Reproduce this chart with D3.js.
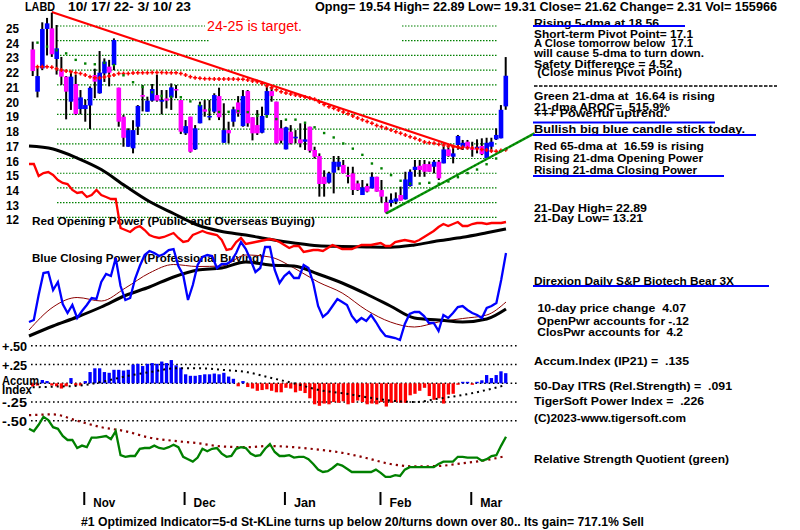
<!DOCTYPE html>
<html><head><meta charset="utf-8">
<script src="https://cdn.jsdelivr.net/npm/d3@7"></script>
<style>
body{margin:0;background:#fff}
svg{display:block;background:#fff}
text{font-family:"Liberation Sans",Arial,sans-serif;white-space:pre}
</style></head>
<body><svg id="c" width="800" height="530"></svg>
<script>
// ---------- DATA ----------
const ticker = "LABD";
const dateRange = "10/ 17/ 22- 3/ 10/ 23";
const headerStats = "Opng= 19.54 High= 22.89 Low= 19.31 Close= 21.62 Change= 2.31 Vol= 155966";
const opens = [23.41,20.54,22.12,24.8,24.84,22.76,22.0,21.56,19.86,21.06,
 19.36,19.36,19.6,21.67,20.43,21.78,22.24,22.35,20.81,18.84,
 16.8,16.69,18.16,20.31,19.18,19.93,20.31,19.86,20.08,20.15,
 20.72,19.97,17.71,18.84,16.62,18.39,19.34,18.8,19.18,20.24,
 17.07,17.93,18.5,19.81,18.2,20.58,18.8,18.27,17.75,18.95,
 20.58,19.86,18.05,16.62,17.82,17.37,17.3,17.14,18.16,16.58,
 16.17,14.76,14.36,15.04,15.44,15.56,14.88,14.99,14.31,13.52,
 14.13,13.97,14.76,13.86,13.02,12.98,13.07,13.52,13.23,14.13,
 15.22,15.51,15.62,15.62,15.44,15.78,15.67,16.62,16.12,16.92,
 16.8,17.14,16.69,16.69,16.85,16.01,16.8,17.3,17.37,19.54];
const highs = [23.94,22.2,25.25,25.55,25.9,25.07,22.9,21.6,21.9,21.7,
 20.65,20.0,20.9,22.1,23.3,22.8,22.7,24.16,20.81,18.95,
 18.05,18.6,19.63,20.99,20.2,21.06,21.7,20.65,20.65,21.1,
 20.99,19.97,18.61,18.84,18.27,19.86,19.97,19.97,20.43,20.81,
 19.75,18.5,19.52,20.24,20.65,20.65,18.8,19.29,19.52,20.93,
 20.88,19.86,18.61,18.16,18.27,17.93,18.39,18.39,18.16,16.8,
 16.35,15.2,15.1,16.17,16.17,15.9,15.44,15.44,14.5,14.54,
 14.3,15.06,14.76,14.54,13.41,13.63,13.7,14.09,15.1,15.26,
 15.9,15.9,15.9,15.8,15.9,15.9,16.9,16.85,16.8,17.6,
 17.26,17.26,17.14,17.3,17.37,17.41,17.41,18.05,19.63,22.89];
const lows = [21.6,20.15,22.0,23.0,22.9,21.7,21.0,18.66,19.3,18.95,
 19.0,18.5,18.0,20.1,20.4,21.2,20.9,22.0,18.16,16.8,
 16.8,16.35,17.6,19.2,19.18,19.86,19.86,19.0,19.4,19.3,
 20.1,17.66,17.6,16.4,16.58,18.39,18.84,18.6,19.07,18.61,
 17.07,17.03,18.16,18.84,18.16,18.16,17.23,17.6,17.71,18.77,
 19.86,16.96,17.03,16.62,16.96,17.03,16.76,16.58,16.4,16.0,
 13.41,13.41,14.3,13.63,15.2,14.99,14.31,13.52,13.8,13.52,
 13.7,13.97,13.75,13.0,12.27,12.73,12.9,13.14,13.21,14.09,
 14.76,14.76,14.76,15.1,14.99,14.54,15.67,16.12,15.67,16.6,
 16.58,16.62,16.12,16.35,16.23,16.01,16.46,17.26,17.37,19.31];
const closes = [21.94,21.6,24.8,25.18,23.08,23.48,21.56,20.54,21.56,19.02,
 20.15,19.63,20.8,21.22,21.83,22.58,21.83,24.05,18.5,17.41,
 17.93,17.93,19.57,20.2,19.93,20.72,19.93,19.97,19.93,20.83,
 20.65,17.82,18.2,16.46,18.05,19.63,19.18,18.89,20.31,18.8,
 17.93,17.71,19.34,19.07,20.24,18.39,17.71,17.71,18.89,20.58,
 20.24,17.03,17.21,18.12,17.03,17.48,17.03,17.3,16.53,16.12,
 14.27,14.27,14.99,15.78,15.78,14.99,14.76,13.86,13.86,14.04,
 13.75,14.76,13.75,13.41,12.34,13.2,13.29,13.14,14.58,15.1,
 15.44,15.22,15.1,15.1,15.78,14.65,16.62,16.17,16.35,17.53,
 17.07,16.69,16.58,16.8,16.3,17.07,17.14,17.6,19.31,21.62];
// red 65-dma (+ markers), day 0 not drawn
const ma65 = [null,22.24,22.24,22.24,22.19,22.1,22.01,21.94,21.9,21.83,
 21.78,21.67,21.56,21.49,21.47,21.54,21.6,21.67,21.78,21.78,
 21.78,21.8,21.83,21.83,21.83,21.85,21.85,21.85,21.83,21.83,
 21.83,21.78,21.67,21.56,21.49,21.45,21.42,21.42,21.4,21.4,
 21.4,21.4,21.4,21.38,21.38,21.33,21.26,21.22,21.1,20.95,
 20.81,20.67,20.54,20.45,20.38,20.31,20.24,20.18,20.11,20.02,
 19.84,19.66,19.52,19.41,19.29,19.16,19.04,18.89,18.75,18.64,
 18.52,18.39,18.25,18.16,18.05,17.93,17.82,17.71,17.6,17.48,
 17.37,17.26,17.12,17.07,17.03,16.96,16.92,16.85,16.8,16.78,
 16.76,16.73,16.71,16.67,16.62,16.58,16.51,16.49,16.55,16.59];
// green 21-dma dots (every other day)
const ma21Days = [1,3,5,7,9,11,13,15,17,19,21,23,25,27,29,31,33,35,37,39,41,43,45,47,49,
 51,53,55,57,59,61,63,65,67,69,71,73,75,77,79,81,83,85,87,89,91,93,95,97,99];
const ma21 = [23.87,23.6,23.35,23.14,22.7,22.45,22.4,22.5,22.35,21.65,
 21.18,20.86,20.5,20.25,20.19,20.16,19.88,19.62,19.32,19.16,
 19.17,19.22,19.15,18.9,18.88,18.68,18.64,18.64,18.43,18.12,
 17.73,17.43,17.02,16.67,16.25,15.66,15.33,14.87,14.49,14.29,
 14.3,14.35,14.29,14.44,14.73,15.01,15.25,15.61,16.0,16.64];
const redTrendDays = [4,90], redTrendVals = [25.95,16.65];
const greenTrendDays = [74,105], greenTrendVals = [12.27,17.71];
const priceTicks = [25,24,23,22,21,20,19,18,17,16,15,14,13,12];

// Opening / Closing Power (arbitrary units)
const openPower = [.81,.81,.69,.72,.73,.70,.65,.62,.61,.55,
 .52,.53,.48,.50,.55,.50,.48,.46,.46,.17,
 .15,.13,.17,.19,.15,.10,.08,.07,.08,.10,
 .12,.07,.03,.04,.10,.12,.14,.12,.11,.10,
 .05,-.05,-.04,.03,.07,.01,.02,.03,.04,.05,
 .06,.05,.03,0,-.03,-.01,-.01,-.07,-.06,-.05,
 -.05,-.06,-.03,0,-.02,-.04,-.04,-.04,-.02,0,
 0,0,.01,.02,-.01,-.01,.03,.04,.05,.04,
 .03,.05,.08,.11,.14,.18,.21,.19,.21,.23,
 .19,.19,.21,.22,.22,.21,.22,.22,.22,.23];
const closePower = [-.77,-.75,-.50,-.28,-.27,-.45,-.37,-.59,-.68,-.60,
 -.73,-.66,-.60,-.53,-.54,-.37,-.29,-.31,-.13,-.41,
 -.55,-.53,-.34,-.21,-.10,-.06,-.08,-.11,-.09,-.05,
 -.04,-.21,-.30,-.55,-.40,-.20,-.12,-.10,-.11,-.23,
 -.19,-.19,-.16,-.08,.03,-.04,-.15,-.27,-.23,-.02,
 -.02,-.25,-.38,-.31,-.27,-.33,-.33,-.20,-.23,-.38,
 -.61,-.72,-.68,-.61,-.54,-.57,-.60,-.71,-.77,-.73,
 -.76,-.70,-.77,-.85,-.91,-.92,-.93,-.95,-.79,-.69,
 -.67,-.67,-.71,-.78,-.78,-.86,-.70,-.73,-.68,-.62,
 -.61,-.65,-.68,-.70,-.73,-.63,-.61,-.58,-.35,-.08];
const maDays = [0,5,10,15,20,25,30,35,40,45,50,55,60,65,70,75,80,85,90,95,99];
const openPowerMA = [.99,.96,.87,.755,.59,.435,.315,.20,.135,.10,.057,.02,-.008,-.015,-.02,-.023,0,.042,.077,.122,.16];
const closePowerMA = [-.91,-.81,-.72,-.62,-.505,-.42,-.32,-.25,-.23,-.17,-.20,-.21,-.29,-.38,-.49,-.61,-.73,-.75,-.77,-.74,-.64];
const closePowerMA2 = [-.85,-.62,-.525,-.56,-.43,-.28,-.195,-.215,-.21,-.10,-.12,-.23,-.37,-.48,-.65,-.77,-.82,-.77,-.735,-.70,-.57];

// Accumulation Index
const accum = [-.044,-.03,.044,.03,-.03,-.04,-.07,-.04,.07,-.03,
 -.03,.03,.15,.2,.2,.15,.14,.18,.18,.17,
 .18,.25,.26,.23,.26,.27,.26,.29,.27,.31,
 .24,.21,.12,.10,.10,.11,.12,.12,.13,.12,
 .14,.09,.06,-.04,.03,-.05,-.07,-.1,-.09,-.08,
 -.1,-.12,-.12,-.06,-.07,-.12,-.1,-.13,-.2,-.28,
 -.3,-.27,-.28,-.25,-.26,-.24,-.28,-.26,-.23,-.25,
 -.28,-.27,-.28,-.25,-.31,-.26,-.25,-.26,-.26,-.16,
 -.14,-.1,-.06,-.17,-.22,-.2,-.27,-.15,-.14,-.02,
 .02,.02,-.02,.02,.04,.11,.07,.11,.16,.135];
const accumMA = [-.053,-.044,-.03,.027,.10,.155,.20,.20,.178,.147,.07,-.005,-.09,-.133,-.187,-.231,-.249,-.204,-.156,-.089,-.022];
const accTicks = [0.5,0.25,-0.25,-0.5];
const accTickLabels = ["+.50","+.25","-.25","-.50"];

// Relative Strength Quotient
const rsq = [.64,.61,.69,.79,.75,.66,.64,.55,.50,.50,
 .40,.43,.41,.53,.53,.54,.55,.51,.61,.31,
 .29,.30,.30,.39,.40,.40,.43,.40,.39,.41,
 .44,.41,.29,.26,.23,.28,.39,.36,.39,.40,
 .33,.29,.30,.39,.41,.40,.33,.30,.31,.39,
 .45,.35,.30,.30,.31,.28,.29,.29,.26,.20,
 .13,.10,.11,.15,.20,.18,.14,.10,.10,.10,
 .10,.10,.13,.09,.04,.04,.06,.05,.13,.16,
 .16,.16,.16,.16,.16,.20,.23,.23,.23,.29,
 .29,.28,.28,.28,.24,.26,.30,.31,.43,.54];
const rsqMA = [.81,.82,.74,.66,.61,.53,.49,.46,.42,.41,.425,.41,.38,.34,.275,.20,.17,.175,.21,.25,.30];

const monthDays = [11,32,53,73,92];
const monthLabels = ["Nov","Dec","Jan","Feb","Mar"];

const sidePanel = [
 {t:"Rising 5-dma at 18.56", y:26.5, w:125, u:685, uy:26},
 {t:"Short-term Pivot Point= 17.1", y:38.3, w:159},
 {t:"A Close tomorrow below  17.1", y:47, w:159},
 {t:"will cause 5-dma to turn down.", y:56.5, w:170},
 {t:"Safety Difference = 4.52", y:67.5, w:139},
 {t:" (Close minus Pivot Point)", y:76, w:148},
 {t:"Green 21-dma at  16.64 is rising", y:99.5, w:181},
 {t:"21-dma AROC=  515.9%", y:111.3, w:136},
 {t:"+++ Powerful uptrend.", y:116.5, w:133, u:715, uy:122.5},
 {t:"Bullish big blue candle stick today.", y:133, w:211, u:756, uy:135},
 {t:"Red 65-dma at  16.59 is rising", y:150, w:170},
 {t:"Rising 21-dma Opening Power", y:162, w:169},
 {t:"Rising 21-dma Closing Power", y:174, w:163, u:724, uy:176},
 {t:"21-Day High= 22.89", y:211.5, w:113},
 {t:"21-Day Low= 13.21", y:222, w:109},
 {t:"Direxion Daily S&P Biotech Bear 3X", y:285, w:200, u:769, uy:286},
 {t:" 10-day price change  4.07", y:311.5, w:152},
 {t:" OpenPwr accounts for -.12", y:324.5, w:155},
 {t:" ClosPwr accounts for  4.2", y:336.3, w:149},
 {t:"Accum.Index (IP21) =  .135", y:364.5, w:155},
 {t:"50-Day ITRS (Rel.Strength) =  .091", y:390, w:198},
 {t:"TigerSoft Power Index =  .226", y:404.5, w:170},
 {t:"(C)2023-www.tigersoft.com", y:422, w:152},
 {t:"Relative Strength Quotient (green)", y:463, w:195}
];
const bottomNote = "#1 Optimized Indicator=5-d St-KLine turns up below 20/turns down over 80.. Its gain= 717.1% Sell";

// ---------- DRAW ----------
const svg = d3.select("#c");
const xC = d3.scaleLinear().domain([0,99]).range([32.7,505.7]);
const xI = d3.scaleLinear().domain([0,99]).range([29,506]);
const yP = d3.scaleLinear().domain([12,25]).range([217.4,26]);
const yOC = d3.scaleLinear().domain([-1,1]).range([345,145]);
const yA = d3.scaleLinear().domain([-0.5,0.5]).range([420.8,345.8]);
const yR = d3.scaleLinear().domain([0,1]).range([480,400]);

function T(x,y,s,w,opt){
  opt = opt || {};
  const t = svg.append("text").attr("x",x).attr("y",y).text(s)
    .style("font-size", opt.size || "11.5px")
    .style("font-weight", opt.weight || "bold")
    .style("fill", opt.fill || "#000");
  if(w) t.attr("textLength",w).attr("lengthAdjust","spacingAndGlyphs");
  return t;
}

// price gridlines
const gG = svg.append("g");
priceTicks.forEach(v=>{
  const segs = v===25 ? [[57,205],[402,498]] : v===24 ? [[57,210],[402,498]] : [[57,498]];
  segs.forEach(s=>{
    gG.append("line").attr("x1",s[0]).attr("x2",s[1]).attr("y1",yP(v)).attr("y2",yP(v))
      .attr("stroke","#008000").attr("stroke-width",1.2).attr("stroke-dasharray","1.5,1.5");
  });
});
priceTicks.forEach(v=>T(6,yP(v)+7,String(v),13,{size:"12px"}));

// accum grid
accTicks.concat([0]).forEach(v=>{
  svg.append("line").attr("x1",31).attr("x2",518).attr("y1",yA(v)).attr("y2",yA(v))
    .attr("stroke","#000").attr("stroke-width",1.6).attr("stroke-dasharray","1.6,2.8");
});

// panel labels (lines are drawn over them, as in the original)
T(32,225,"Red Opening Power (Public and Overseas Buying)",283);
T(32,262,"Blue Closing Power (Professional Buying)",231);

// OP / CP lines
const lineI = (ys)=>d3.line().x((d,i)=>xI(i)).y(d=>ys(d));
const lineMA = (xs,ys,days)=>d3.line().x((d,i)=>xs(days[i])).y(d=>ys(d)).curve(d3.curveMonotoneX);
svg.append("path").datum(openPowerMA).attr("d",lineMA(xI,yOC,maDays)).attr("fill","none").attr("stroke","#000").attr("stroke-width",3);
svg.append("path").datum(openPower).attr("d",lineI(yOC)).attr("fill","none").attr("stroke","#ff0000").attr("stroke-width",2.3);
svg.append("path").datum(closePowerMA2).attr("d",lineMA(xI,yOC,maDays)).attr("fill","none").attr("stroke","#8b0000").attr("stroke-width",1);
svg.append("path").datum(closePowerMA).attr("d",lineMA(xI,yOC,maDays)).attr("fill","none").attr("stroke","#000").attr("stroke-width",3);
svg.append("path").datum(closePower).attr("d",lineI(yOC)).attr("fill","none").attr("stroke","#0000ff").attr("stroke-width",2.3);

// red down trend line
svg.append("line").attr("x1",xC(redTrendDays[0])).attr("y1",yP(redTrendVals[0]))
  .attr("x2",xC(redTrendDays[1])).attr("y2",yP(redTrendVals[1])).attr("stroke","#ff0000").attr("stroke-width",2.2);

// candles
const gC = svg.append("g");
closes.forEach((c,i)=>{
  gC.append("line").attr("x1",xC(i)).attr("x2",xC(i)).attr("y1",yP(highs[i])).attr("y2",yP(lows[i]))
    .attr("stroke","#000").attr("stroke-width",2);
  const o = opens[i];
  const top = Math.min(yP(o),yP(c)), h = Math.max(1.5,Math.abs(yP(o)-yP(c)));
  gC.append("rect").attr("x",xC(i)-2.2).attr("width",4.6).attr("y",top).attr("height",h)
    .attr("fill", c>=o ? "#0000ff" : "#ff00ff");
});

// 65-dma plus markers
svg.append("g").selectAll("path").data(ma65.map((v,i)=>[i,v]).filter(d=>d[1]!=null)).join("path")
  .attr("d",d=>`M${xC(d[0])-2},${yP(d[1])}h4M${xC(d[0])},${yP(d[1])-2}v4`)
  .attr("stroke","#ff0000").attr("stroke-width",1.5);

// 21-dma dots
svg.append("g").selectAll("rect").data(ma21).join("rect")
  .attr("x",(d,i)=>xC(ma21Days[i])-1.2).attr("y",d=>yP(d)-1.2).attr("width",2.4).attr("height",2.4).attr("fill","#008000");

// green up trend line
svg.append("line").attr("x1",xC(greenTrendDays[0])).attr("y1",yP(greenTrendVals[0]))
  .attr("x2",xC(greenTrendDays[1])).attr("y2",yP(greenTrendVals[1])).attr("stroke","#0a9a0a").attr("stroke-width",2.4);
svg.append("line").attr("x1",xC(greenTrendDays[0])).attr("y1",yP(greenTrendVals[0]))
  .attr("x2",xC(greenTrendDays[1])).attr("y2",yP(greenTrendVals[1])).attr("stroke","#006000").attr("stroke-width",1.2).attr("stroke-dasharray","1.5,2.5");

// accum bars
svg.append("g").selectAll("rect").data(accum).join("rect")
  .attr("x",(d,i)=>xC(i)-1.6).attr("width",3.3)
  .attr("y",d=>Math.min(yA(0),yA(d))).attr("height",d=>Math.max(1.5,Math.abs(yA(d)-yA(0))))
  .attr("fill",d=>d>=0?"#0000ff":"#ff0000");
svg.append("path").datum(accumMA).attr("d",lineMA(xC,yA,maDays)).attr("fill","none")
  .attr("stroke","#000").attr("stroke-width",2).attr("stroke-dasharray","2,4");

// RSQ
svg.append("path").datum(rsqMA).attr("d",lineMA(xI,yR,maDays)).attr("fill","none")
  .attr("stroke","#8b0000").attr("stroke-width",2.2).attr("stroke-dasharray","2.2,4");
svg.append("path").datum(rsq).attr("d",lineI(yR)).attr("fill","none").attr("stroke","#008000").attr("stroke-width",2.3);

// month axis
svg.append("g").selectAll("line").data(monthDays).join("line")
  .attr("x1",d=>xC(d)-1).attr("x2",d=>xC(d)-1).attr("y1",492).attr("y2",505).attr("stroke","#000").attr("stroke-width",2);
monthLabels.forEach((s,i)=>T(xC(monthDays[i])+8,507,s,22,{size:"12px"}));

// accum labels
accTickLabels.forEach((s,k)=>T(2,yA(accTicks[k])+5,s,25,{size:"12px"}));
T(2,385,"Accum",37,{size:"12px"});
T(2,394,"Index",30,{size:"12px"});
T(207,31,"24-25 is target.",95,{fill:"#ff0000",weight:"normal",size:"14px"});

// header
T(25,11,ticker,30,{size:"12px"});
T(68,11,dateRange,123,{size:"12px"});
T(315,11,headerStats,462,{size:"12px"});

// side panel
sidePanel.forEach(p=>{
  T(534,p.y,p.t,p.w);
  if(p.u) svg.append("line").attr("x1",533).attr("x2",p.u).attr("y1",p.uy).attr("y2",p.uy)
      .attr("stroke","#0000ff").attr("stroke-width",2);
});
svg.append("line").attr("x1",534).attr("x2",777).attr("y1",86).attr("y2",86)
  .attr("stroke","#000").attr("stroke-width",1.3).attr("stroke-dasharray","3.5,1.5");

T(81,526,bottomNote,563,{size:"12px"});
</script>
</body></html>
